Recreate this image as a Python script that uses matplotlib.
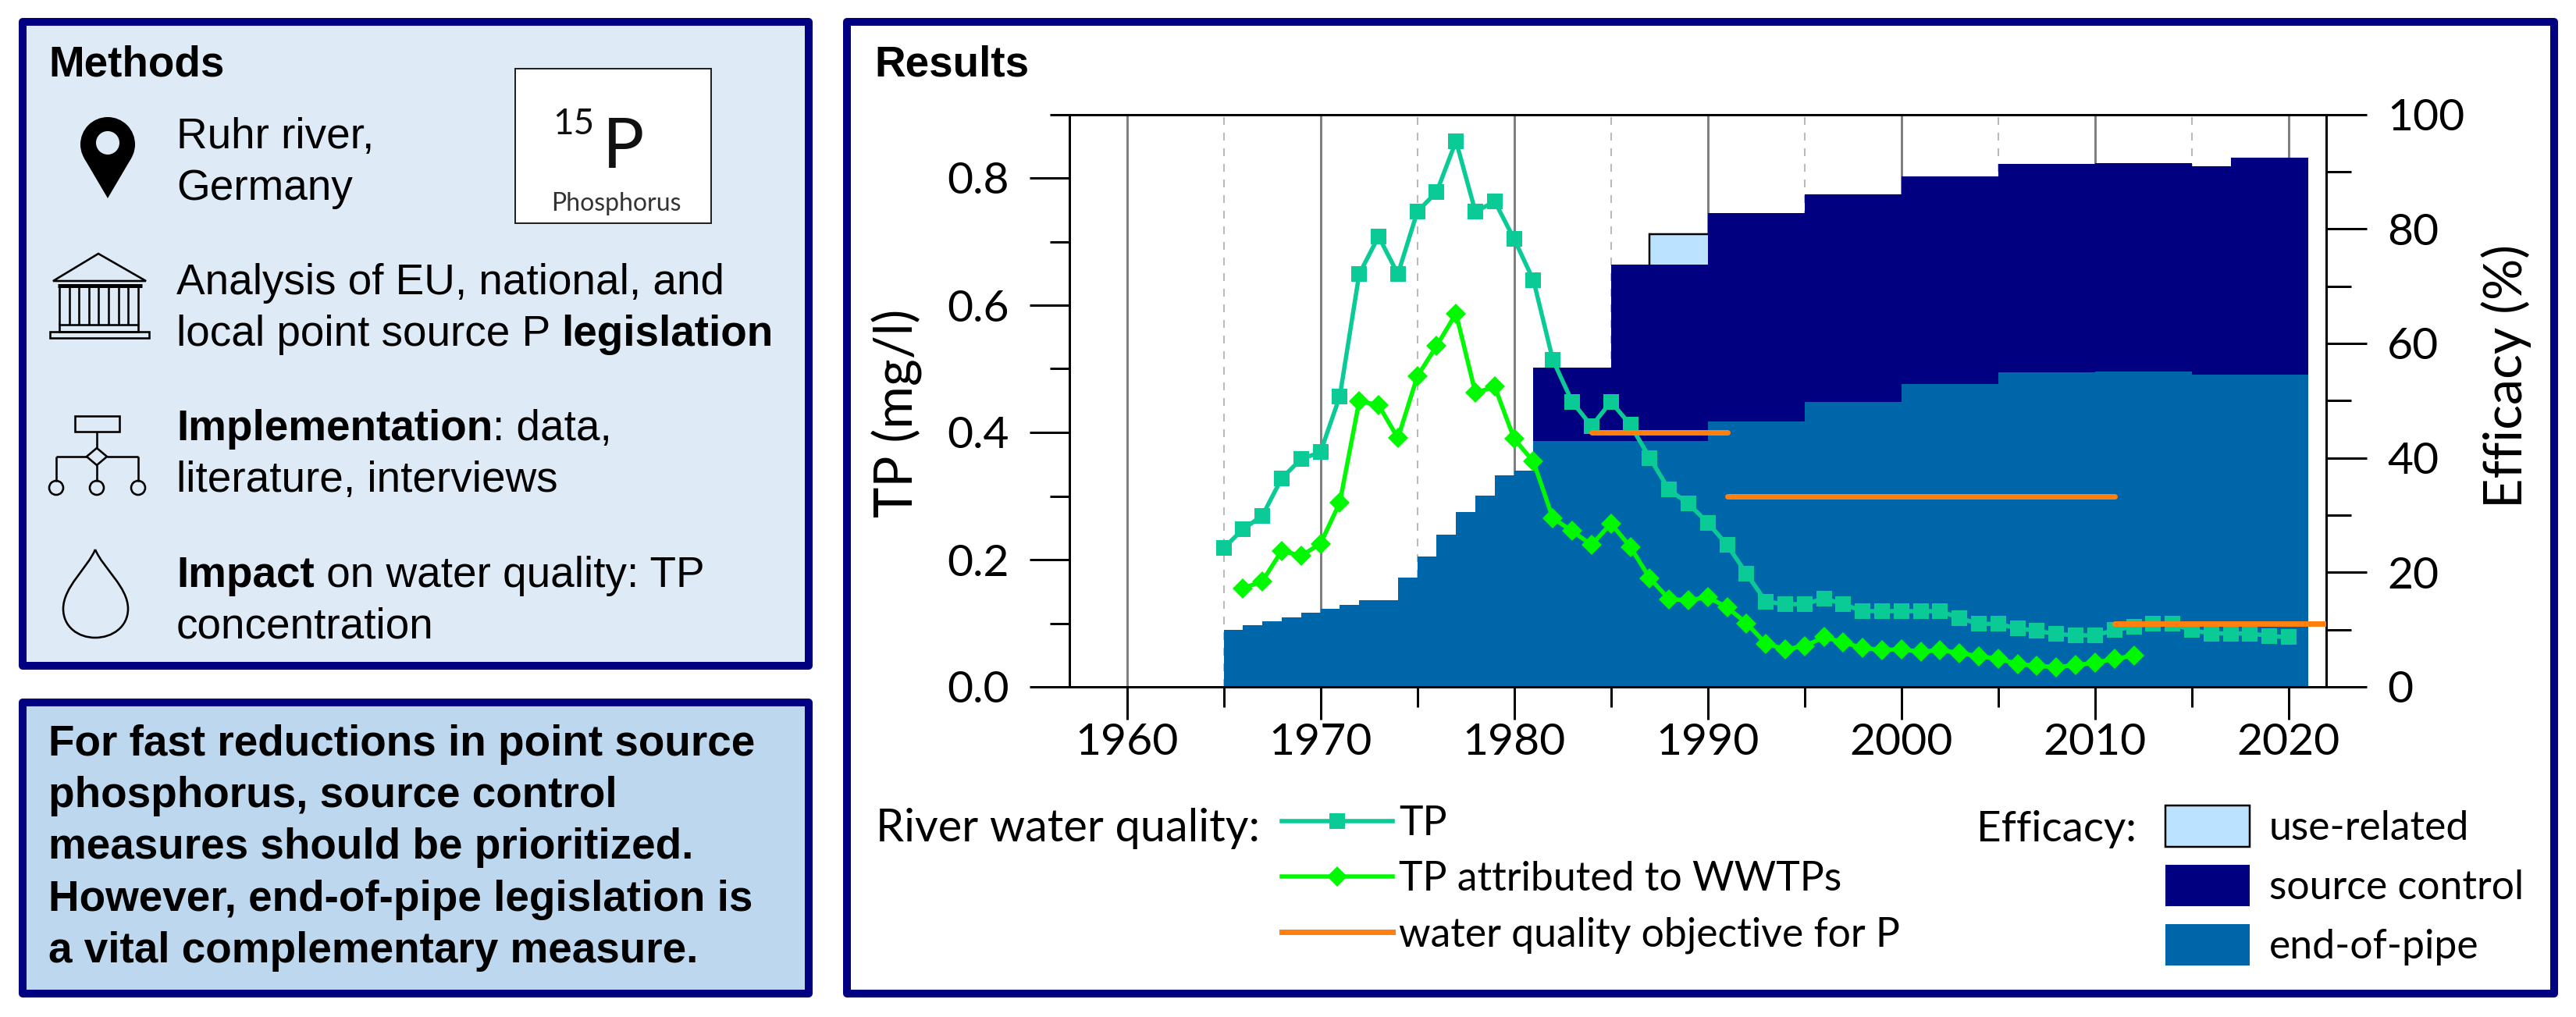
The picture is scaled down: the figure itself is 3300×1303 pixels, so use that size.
import numpy as np
import matplotlib
matplotlib.use("Agg")
import matplotlib.pyplot as plt
from matplotlib.patches import Rectangle, Circle, Polygon, PathPatch, Patch
from matplotlib.path import Path
from matplotlib.lines import Line2D
from matplotlib.ticker import MultipleLocator

W, H = 3300, 1303
PT = 0.72  # points per pixel at dpi 100

# ---------- data ----------
tp_years = list(range(1965, 2021))
tp = [0.218, 0.248, 0.269, 0.328, 0.358, 0.369, 0.457, 0.649, 0.708, 0.649,
      0.747, 0.778, 0.858, 0.747, 0.763, 0.704, 0.639, 0.514, 0.448, 0.410,
      0.448, 0.412, 0.360, 0.310, 0.288, 0.258, 0.223, 0.178, 0.134, 0.130,
      0.130, 0.139, 0.130, 0.119, 0.119, 0.119, 0.119, 0.119, 0.108, 0.099,
      0.099, 0.092, 0.088, 0.083, 0.081, 0.081, 0.089, 0.095, 0.099, 0.099,
      0.089, 0.084, 0.084, 0.084, 0.080, 0.078]
wwtp_years = list(range(1966, 2013))
wwtp = [0.155, 0.166, 0.214, 0.206, 0.225, 0.290, 0.449, 0.443, 0.391, 0.488,
        0.536, 0.587, 0.462, 0.472, 0.390, 0.354, 0.265, 0.245, 0.223, 0.257,
        0.220, 0.171, 0.138, 0.136, 0.141, 0.125, 0.100, 0.068, 0.059, 0.064,
        0.078, 0.070, 0.061, 0.058, 0.059, 0.055, 0.058, 0.053, 0.048, 0.044,
        0.036, 0.033, 0.031, 0.034, 0.038, 0.044, 0.049]
objective_periods = [(1984, 1991), (1991, 2011), (2011, 2022)]
objective_values = [0.4, 0.3, 0.1]

eop_edges = list(range(1965, 2022))
end_of_pipe = [10.0, 10.8, 11.5, 12.1, 12.9, 13.6, 14.3, 15.2, 15.2, 19.05,
               22.7, 26.6, 30.5, 33.4, 37.0, 37.8,
               42.9, 42.9, 42.9, 42.9, 42.9, 42.9, 42.9, 42.9, 42.9,
               46.3, 46.3, 46.3, 46.3, 46.3,
               49.7, 49.7, 49.7, 49.7, 49.7,
               52.9, 52.9, 52.9, 52.9, 52.9,
               54.9, 54.9, 54.9, 54.9, 54.9,
               55.1, 55.1, 55.1, 55.1, 55.1,
               54.6, 54.6, 54.6, 54.6, 54.6, 54.6]
sc_edges = list(range(1981, 2022))
source_top = [55.8, 55.8, 55.8, 55.8, 73.8, 73.8, 73.8, 73.8, 73.8,
              82.7, 82.7, 82.7, 82.7, 82.7,
              86.0, 86.0, 86.0, 86.0, 86.0,
              89.2, 89.2, 89.2, 89.2, 89.2,
              91.3, 91.3, 91.3, 91.3, 91.3,
              91.5, 91.5, 91.5, 91.5, 91.5,
              91.0, 91.0, 92.5, 92.5, 92.5, 92.5]
use_edges = [1987, 1988, 1989, 1990]
use_top = [79.1, 79.1, 79.1]
use_base = [73.8, 73.8, 73.8]

x_major = [1960, 1970, 1980, 1990, 2000, 2010, 2020]

NAVY = "#000080"
BLUE = "#0066AA"
LIGHT = "#BBE3FF"
TEAL = "#0ACB96"
GREEN = "#00F800"
ORANGE = "#FF800E"

plt.rcParams["font.family"] = ["Lato", "DejaVu Sans"]
fig = plt.figure(figsize=(W / 100, H / 100), dpi=100, facecolor="white")

# ---------- pixel canvas for panels ----------
bg = fig.add_axes([0, 0, 1, 1], zorder=0)
bg.set_xlim(0, W); bg.set_ylim(H, 0); bg.axis("off")

def panel(x0, y0, x1, y1, face):
    bg.add_patch(Rectangle((x0, y0), x1 - x0, y1 - y0, facecolor=face,
                           edgecolor=NAVY, linewidth=10 * PT, joinstyle="round"))

panel(28.5, 27.5, 1036, 853, "#DEEBF7")
panel(28.5, 900, 1036, 1272.5, "#BDD7EE")
panel(1085, 27.5, 3272, 1272.5, "white")

ARIAL = ["Liberation Sans", "DejaVu Sans"]
rend = fig.canvas.get_renderer()

def runs(x, y, parts, size, color="black"):
    for s, bold in parts:
        w = "bold" if bold else "normal"
        t = bg.text(x, y, s, fontsize=size, family=ARIAL, weight=w, color=color,
                    va="baseline", ha="left")
        a = bg.text(0, 0, s + ".", fontsize=size, family=ARIAL, weight=w)
        b = bg.text(0, 0, ".", fontsize=size, family=ARIAL, weight=w)
        x += a.get_window_extent(rend).width - b.get_window_extent(rend).width
        a.remove(); b.remove()

FS = 39.5
runs(62, 97, [("Methods", True)], FS)
runs(226, 190, [("Ruhr river,", False)], FS)
runs(226, 256, [("Germany", False)], FS)
runs(226, 377, [("Analysis of EU, national, and", False)], FS)
runs(226, 443, [("local point source P ", False), ("legislation", True)], FS)
runs(226, 564, [("Implementation", True), (": data,", False)], FS)
runs(226, 630, [("literature, interviews", False)], FS)
runs(226, 752, [("Impact", True), (" on water quality: TP", False)], FS)
runs(226, 817, [("concentration", False)], FS)

for i, line in enumerate(["For fast reductions in point source",
                          "phosphorus, source control",
                          "measures should be prioritized.",
                          "However, end-of-pipe legislation is",
                          "a vital complementary measure."]):
    runs(62, 968 + i * 66.2, [(line, True)], FS)

# element tile
bg.add_patch(Rectangle((660, 88), 251, 198, facecolor="white", edgecolor="#222222", linewidth=2 * PT))
bg.text(708, 172, "15", fontsize=33, va="baseline", color="#111111")
bg.text(772, 215, "P", fontsize=64, va="baseline", color="#111111")
bg.text(789, 270, "Phosphorus", fontsize=23, va="baseline", ha="center", color="#333333")

# icons
ilw = 2.6 * PT
bg.add_patch(Circle((138, 185), 35, color="black", lw=0))
bg.add_patch(Polygon([(108, 203), (168, 203), (138, 254)], closed=True, color="black", lw=0))
bg.add_patch(Circle((138, 183), 15, color="#DEEBF7", lw=0))

def L(xs, ys, lw=ilw):
    bg.plot(xs, ys, color="black", lw=lw, solid_capstyle="butt")

bg.add_patch(Polygon([(126, 325), (187, 360), (68, 360)], closed=True, fill=False, edgecolor="black", lw=ilw))
L([74, 182], [366, 366], 5 * PT)
for cx in [76, 89, 101, 114, 126, 139, 152, 164, 177]:
    L([cx, cx], [367, 416])
bg.add_patch(Rectangle((76, 416), 101, 9, fill=False, edgecolor="black", lw=ilw))
bg.add_patch(Rectangle((64, 425), 127, 8, fill=False, edgecolor="black", lw=ilw))

bg.add_patch(Rectangle((96, 533), 57, 20, fill=False, edgecolor="black", lw=ilw))
L([124, 124], [553, 574])
bg.add_patch(Polygon([(124, 574), (137, 585), (124, 596), (111, 585)], closed=True, fill=False, edgecolor="black", lw=ilw))
L([72, 111], [585, 585]); L([137, 177], [585, 585])
L([72, 72], [585, 617]); L([177, 177], [585, 617]); L([124, 124], [596, 617])
for cx in [72, 124, 177]:
    bg.add_patch(Circle((cx, 625), 9, fill=False, edgecolor="black", lw=ilw))

drop = Path([(122, 704), (112, 728), (81, 752), (81, 780), (81, 803), (100, 817), (122, 817),
             (144, 817), (164, 803), (164, 780), (164, 752), (132, 728), (122, 704)],
            [Path.MOVETO] + [Path.CURVE4] * 12)
bg.add_patch(PathPatch(drop, fill=False, edgecolor="black", lw=ilw))

# ---------- chart ----------
L_, R_, T_, B_ = 1370, 2980, 146.5, 880
ax_eff = fig.add_axes([L_ / W, 1 - B_ / H, (R_ - L_) / W, (B_ - T_) / H], zorder=2)
ax_tp = ax_eff.twinx()
ax_tp.set_zorder(3)
ax_tp.patch.set_visible(False)
ax_eff.patch.set_visible(False)

xl = (1960 - (1443.5 - L_) / 24.8, 2020 + (R_ - 2932) / 24.8)
ax_eff.set_xlim(*xl)
ax_eff.set_ylim(0, 100)
ax_tp.set_ylim(0, 0.9)

ax_eff.stairs(end_of_pipe, eop_edges, fill=True, color=BLUE, lw=0, zorder=2)
ax_eff.stairs(source_top, sc_edges, baseline=np.array(end_of_pipe[16:]), fill=True, color=NAVY, lw=0, zorder=2)
ax_eff.stairs(use_top, use_edges, baseline=np.array(use_base), fill=True, facecolor=LIGHT, lw=0, zorder=2)
ax_eff.stairs(use_top, use_edges, baseline=None, color="black", lw=2.5 * PT, zorder=2.1)
ax_eff.plot([use_edges[0], use_edges[0]], [use_base[0], use_top[0]], color="black", lw=2.5 * PT, zorder=2.1)

ax_tp.plot(tp_years, tp, color=TEAL, lw=5.5 * PT, marker="s", ms=20 * PT, mew=0, zorder=3)
ax_tp.plot(wwtp_years, wwtp, color=GREEN, lw=5.5 * PT, marker="D", ms=18 * PT, mew=0, zorder=4)
for (a, b), v in zip(objective_periods, objective_values):
    ax_tp.plot([a, b], [v, v], color=ORANGE, lw=7 * PT, zorder=5, solid_capstyle="round")

ax_eff.xaxis.set_major_locator(MultipleLocator(10))
ax_eff.xaxis.set_minor_locator(MultipleLocator(5))
ax_eff.set_xticks(x_major)
ax_eff.set_axisbelow(True)
ax_eff.grid(True, which="major", axis="x", color="#808080", lw=3 * PT)
ax_eff.grid(True, which="minor", axis="x", color="#BBBBBB", lw=2 * PT, ls=(0, (5, 5)))

ax_eff.yaxis.tick_right()
ax_eff.yaxis.set_label_position("right")
ax_tp.yaxis.tick_left()
ax_tp.yaxis.set_label_position("left")
ax_eff.set_yticks(range(0, 101, 20))
ax_eff.yaxis.set_minor_locator(MultipleLocator(10))
ax_tp.set_yticks([0, 0.2, 0.4, 0.6, 0.8])
ax_tp.set_yticklabels(["0.0", "0.2", "0.4", "0.6", "0.8"])
ax_tp.yaxis.set_minor_locator(MultipleLocator(0.1))

tw = 3 * PT
ax_eff.tick_params(axis="x", which="major", length=42 * PT, width=tw, labelsize=41, pad=4 * PT)
ax_eff.tick_params(axis="x", which="minor", length=26 * PT, width=tw)
ax_eff.tick_params(axis="y", which="major", length=52 * PT, width=tw, labelsize=41, pad=26 * PT)
ax_eff.tick_params(axis="y", which="minor", length=32 * PT, width=tw)
ax_tp.tick_params(axis="y", which="major", length=51 * PT, width=tw, labelsize=41, pad=26 * PT)
ax_tp.tick_params(axis="y", which="minor", length=25 * PT, width=tw)
for a in (ax_eff, ax_tp):
    for s in a.spines.values():
        s.set_linewidth(tw)

ax_tp.set_ylabel("TP (mg/l)", fontsize=48)
ax_tp.yaxis.set_label_coords((1182 - L_) / (R_ - L_), 0.4785)
ax_eff.set_ylabel("Efficacy (%)", fontsize=48)
ax_eff.yaxis.set_label_coords((3178 - L_) / (R_ - L_), 0.5426)

runs(1120, 97, [("Results", True)], FS)

# ---------- legends ----------
LEG = 37.3
bg.text(1122, 1078, "River water quality:", fontsize=41.5, va="baseline")
bg.text(2532, 1078, "Efficacy:", fontsize=39.5, va="baseline")
h1 = [Line2D([], [], color=TEAL, lw=5.5 * PT, marker="s", ms=20 * PT, mew=0),
      Line2D([], [], color=GREEN, lw=5.5 * PT, marker="D", ms=18 * PT, mew=0),
      Line2D([], [], color=ORANGE, lw=7 * PT)]
fig.legend(h1, ["TP", "TP attributed to WWTPs", "water quality objective for P"],
           loc="upper left", bbox_to_anchor=(1642 / W, 1 - 1032 / H), frameon=False,
           fontsize=LEG, handlelength=142 * PT / LEG, handletextpad=8 * PT / LEG,
           labelspacing=(75 - 51) * PT / LEG, borderpad=0, borderaxespad=0)
h2 = [Patch(facecolor=LIGHT, edgecolor="black", lw=2.5 * PT),
      Patch(facecolor=NAVY, lw=0), Patch(facecolor=BLUE, lw=0)]
fig.legend(h2, ["use-related", "source control", "end-of-pipe"],
           loc="upper left", bbox_to_anchor=(2774 / W, 1 - 1032 / H), frameon=False,
           fontsize=LEG, handlelength=108 * PT / LEG, handleheight=1.19, handletextpad=25 * PT / LEG,
           labelspacing=(75 - 52) * PT / LEG, borderpad=0, borderaxespad=0)

fig.savefig("out.png", dpi=100)
